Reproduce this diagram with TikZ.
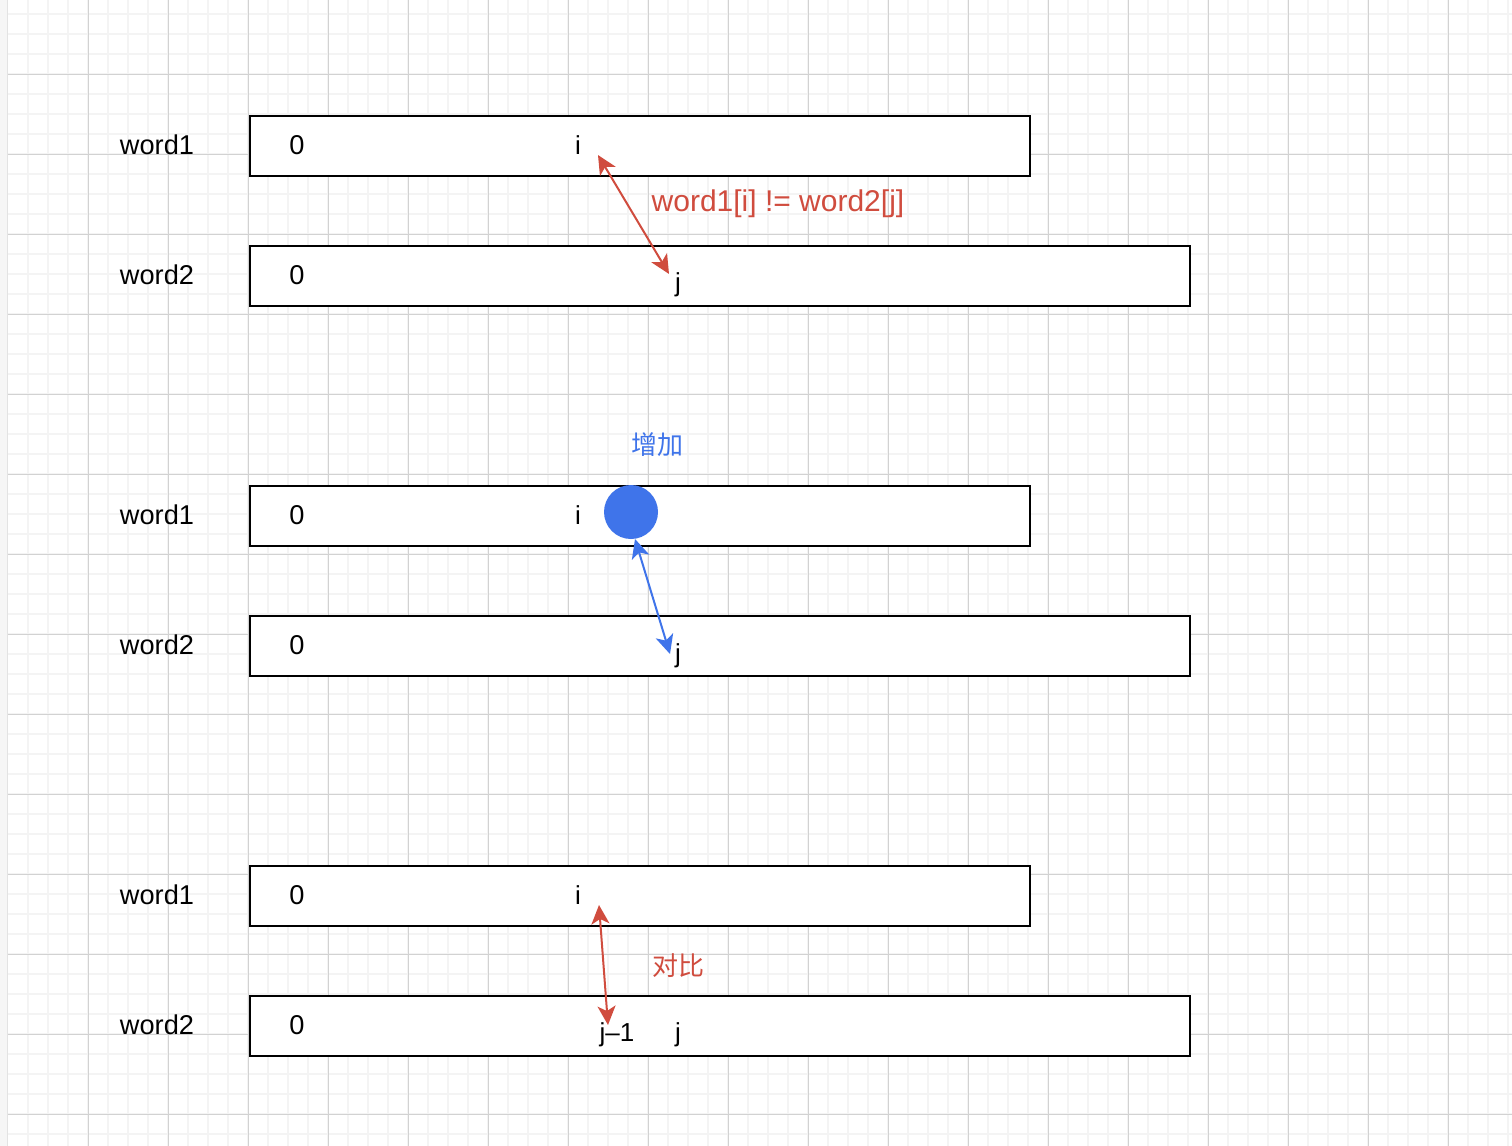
\documentclass[tikz,border=0pt]{standalone}
\usepackage{fontspec}
\setmainfont{Liberation Sans}
\newfontfamily\cjk{Noto Sans CJK SC}
\usetikzlibrary{arrows.meta}
\definecolor{myred}{RGB}{208,76,62}
\definecolor{myblue}{RGB}{63,116,234}
\definecolor{gmin}{RGB}{244,244,244}
\definecolor{gmaj}{RGB}{210,210,210}
\begin{document}
\begin{tikzpicture}[x=0.5pt,y=-0.5pt,
  wbox/.style={draw=black, line width=1pt, fill=white, rectangle, inner sep=0pt, anchor=north west, minimum height=30pt},
  shortbox/.style={wbox, minimum width=390pt},
  longbox/.style={wbox, minimum width=470pt},
  lbl/.style={inner sep=0pt, font=\fontsize{13.6}{16}\selectfont},
  idx/.style={inner sep=0pt, font=\fontsize{13}{15}\selectfont},
  redlbl/.style={inner sep=0pt, text=myred, font=\fontsize{15}{18}\selectfont},
  cjklbl/.style={inner sep=0pt, font=\cjk\fontsize{13}{15}\selectfont},
  redarrow/.style={draw=myred, line width=1pt, {Stealth[length=9.5pt,width=9pt,inset=2.5pt]}-{Stealth[length=9.5pt,width=9pt,inset=2.5pt]}},
  bluearrow/.style={draw=myblue, line width=1pt, {Stealth[length=9.5pt,width=9pt,inset=2.5pt]}-{Stealth[length=9.5pt,width=9pt,inset=2.5pt]}}
]
\useasboundingbox (0,0) rectangle (1512,1146);
\fill[white] (0,0) rectangle (1512,1146);
% minor grid
\foreach \x in {28,48,...,1512} \draw[gmin, line width=1pt] (\x,0) -- (\x,1146);
\foreach \y in {14,34,...,1146} \draw[gmin, line width=1pt] (8,\y) -- (1512,\y);
% major grid
\foreach \x in {88,168,...,1512} \draw[gmaj, line width=0.5pt] (\x,0) -- (\x,1146);
\foreach \y in {74,154,...,1146} \draw[gmaj, line width=0.5pt] (8,\y) -- (1512,\y);
% left strip
\fill[gray!7] (0,0) rectangle (8,1146);
\draw[gray!22, line width=0.6pt] (7.5,0) -- (7.5,1146);

% ---------- set 1
\node[shortbox] (b1a) at (248.5,115) {};
\node[longbox] (b1b) at (248.5,245) {};
\node[lbl] (w1a) at (157,145) {word1};
\node[lbl] (w1b) at (157,275) {word2};
\node[lbl] (z1a) at (297,145) {0};
\node[lbl] (z1b) at (297,275) {0};
\node[idx] (i1) at (578,145) {i};
\node[idx] (j1) at (678,285) {j};
\node[redlbl] (t1) at (778,204) {word1[i] != word2[j]};
\coordinate (r1a) at (598,155);
\coordinate (r1b) at (669,274);
\draw[redarrow] (r1a) -- (r1b);

% ---------- set 2
\node[shortbox] (b2a) at (248.5,485) {};
\node[longbox] (b2b) at (248.5,615) {};
\node[lbl] (w2a) at (157,515) {word1};
\node[lbl] (w2b) at (157,645) {word2};
\node[lbl] (z2a) at (297,515) {0};
\node[lbl] (z2b) at (297,645) {0};
\node[idx] (i2) at (578,515) {i};
\node[idx] (j2) at (678,656) {j};
\node[cjklbl, text=myblue] (t2) at (657,445) {增加};
\node[circle, fill=myblue, minimum size=27pt, inner sep=0pt] (circ) at (631,512) {};
\coordinate (b2s) at (635,539);
\coordinate (b2e) at (670,654);
\draw[bluearrow] (b2s) -- (b2e);

% ---------- set 3
\node[shortbox] (b3a) at (248.5,865) {};
\node[longbox] (b3b) at (248.5,995) {};
\node[lbl] (w3a) at (157,895) {word1};
\node[lbl] (w3b) at (157,1025) {word2};
\node[lbl] (z3a) at (297,895) {0};
\node[lbl] (z3b) at (297,1025) {0};
\node[idx] (i3) at (578,895) {i};
\node[idx] (jm3) at (617,1035) {j–1};
\node[idx] (j3) at (678,1035) {j};
\node[cjklbl, text=myred] (t3) at (678,966) {对比};
\coordinate (r3a) at (599,905);
\coordinate (r3b) at (608,1025);
\draw[redarrow] (r3a) -- (r3b);
\end{tikzpicture}
\end{document}
